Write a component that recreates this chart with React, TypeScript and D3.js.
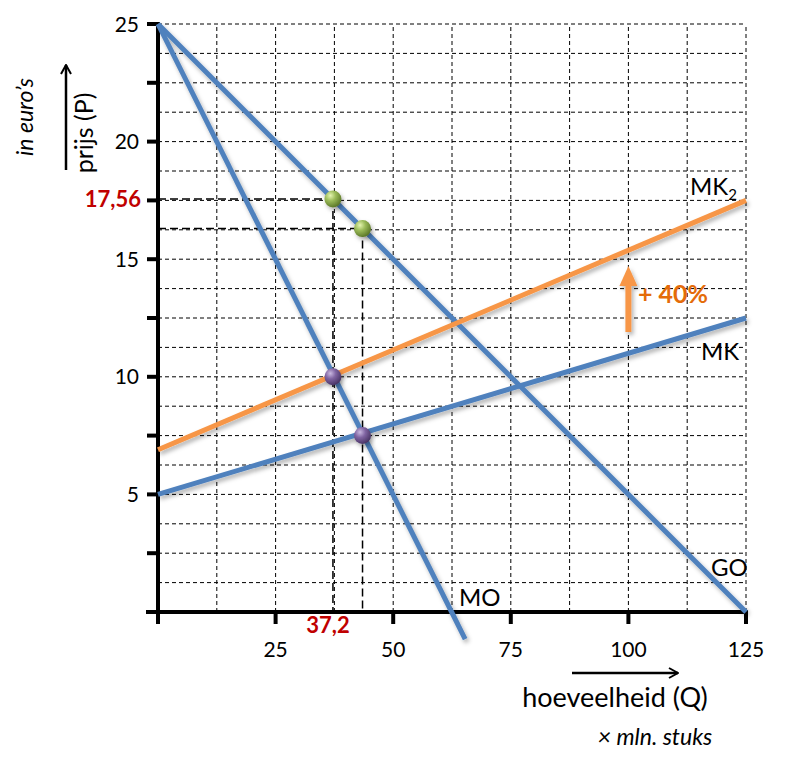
import React from "react";
import * as d3 from "d3";

const qTicks = [25, 50, 75, 100, 125];
const pTicks = [5, 10, 15, 20, 25];
const qGrid = [12.5, 25, 37.5, 50, 62.5, 75, 87.5, 100, 112.5, 125];
const pGrid = d3.range(1, 21).map((i) => i * 1.25);
const pMinorTicks = [2.5, 5, 7.5, 10, 12.5, 15, 17.5, 20, 22.5, 25];

const goLine: [number, number][] = [[0, 25], [125, 0]];
const moLine: [number, number][] = [[0, 25], [65.3, -1.15]];
const mkLine: [number, number][] = [[0, 5], [125, 12.5]];
const mk2Line: [number, number][] = [[0, 6.9], [125, 17.5]];

const greenPoints: [number, number][] = [[37.19, 17.56], [43.48, 16.3]];
const purplePoints: [number, number][] = [[37.19, 10.0], [43.48, 7.5]];

const FONT = "Lato, 'Open Sans', sans-serif";

export default function App() {
  const x = d3.scaleLinear().domain([0, 125]).range([158, 746]);
  const y = d3.scaleLinear().domain([0, 25]).range([612, 24]);
  const line = d3
    .line<[number, number]>()
    .x((d) => x(d[0]))
    .y((d) => y(d[1]));

  const blue = "#4F81BD";
  const orange = "#F79646";

  return (
    <svg width={794} height={770} style={{ position: "absolute", left: 0, top: 0 }}>
      <defs>
        <filter id="sh" x="-10%" y="-10%" width="120%" height="120%">
          <feDropShadow dx="2" dy="3" stdDeviation="2" floodColor="#000" floodOpacity="0.3" />
        </filter>
        <radialGradient id="gGreen" cx="35%" cy="30%" r="70%">
          <stop offset="0%" stopColor="#E6F5B0" />
          <stop offset="45%" stopColor="#9BBB59" />
          <stop offset="100%" stopColor="#5E7A2A" />
        </radialGradient>
        <radialGradient id="gPurple" cx="35%" cy="30%" r="70%">
          <stop offset="0%" stopColor="#C9B8E0" />
          <stop offset="45%" stopColor="#8064A2" />
          <stop offset="100%" stopColor="#4A3566" />
        </radialGradient>
        <marker id="ah" viewBox="0 0 12 12" refX="11" refY="6" markerWidth="12" markerHeight="12" orient="auto" markerUnits="userSpaceOnUse">
          <path d="M2,1 L11,6 L2,11" fill="none" stroke="#000" strokeWidth="2" />
        </marker>
      </defs>
      <rect width={794} height={770} fill="#fff" />

      {/* grid */}
      {qGrid.map((q) => (
        <line key={"vq" + q} x1={x(q)} x2={x(q)} y1={y(0)} y2={y(25)} stroke="#000" strokeWidth={1} strokeDasharray="4,3" />
      ))}
      {pGrid.map((p) => (
        <line key={"hp" + p} x1={x(0)} x2={x(125)} y1={y(p)} y2={y(p)} stroke="#000" strokeWidth={1} strokeDasharray="4,3" />
      ))}

      {/* helper dashed lines */}
      {greenPoints.map(([q, p], i) => (
        <g key={"dl" + i}>
          <line x1={x(0)} x2={x(q)} y1={y(p)} y2={y(p)} stroke="#000" strokeWidth={1.5} strokeDasharray="8,4" />
          <line x1={x(q)} x2={x(q)} y1={y(p)} y2={y(0)} stroke="#000" strokeWidth={1.5} strokeDasharray="8,4" />
        </g>
      ))}

      {/* axes */}
      <line x1={x(0)} x2={x(0)} y1={y(25) - 2} y2={y(0) + 2} stroke="#000" strokeWidth={4} />
      <line x1={x(0) - 12} x2={x(125) + 2} y1={y(0)} y2={y(0)} stroke="#000" strokeWidth={4} />
      {pMinorTicks.map((p) => (
        <line key={"pt" + p} x1={x(0) - 11} x2={x(0)} y1={y(p)} y2={y(p)} stroke="#000" strokeWidth={4} />
      ))}
      {[0, ...qTicks].map((q) => (
        <line key={"qt" + q} x1={x(q)} x2={x(q)} y1={y(0)} y2={y(0) + 12} stroke="#000" strokeWidth={4} />
      ))}
      {pTicks.map((p) => (
        <text key={"pl" + p} x={x(0) - 19} y={y(p)} dy="0.36em" textAnchor="end" fontFamily={FONT} fontSize={21} fill="#000">
          {p}
        </text>
      ))}
      {qTicks.map((q) => (
        <text key={"ql" + q} x={x(q)} y={y(0) + 45} textAnchor="middle" fontFamily={FONT} fontSize={21} fill="#000">
          {q}
        </text>
      ))}

      {/* curves */}
      <g filter="url(#sh)">
        <path d={line(goLine) || ""} stroke={blue} strokeWidth={5} fill="none" />
        <path d={line(moLine) || ""} stroke={blue} strokeWidth={5} fill="none" />
        <path d={line(mkLine) || ""} stroke={blue} strokeWidth={5} fill="none" />
        <path d={line(mk2Line) || ""} stroke={orange} strokeWidth={5} fill="none" />
      </g>

      {/* points */}
      <g filter="url(#sh)">
        {greenPoints.map(([q, p], i) => (
          <circle key={"gp" + i} cx={x(q)} cy={y(p)} r={8.5} fill="url(#gGreen)" />
        ))}
        {purplePoints.map(([q, p], i) => (
          <circle key={"pp" + i} cx={x(q)} cy={y(p)} r={8.5} fill="url(#gPurple)" />
        ))}
      </g>

      {/* +40% arrow */}
      <g filter="url(#sh)">
        <line x1={x(100)} x2={x(100)} y1={332} y2={283} stroke={orange} strokeWidth={6} />
        <path d={`M${x(100) - 9},286 L${x(100)},266 L${x(100) + 9},286 Z`} fill={orange} />
      </g>
      <text x={638} y={303} fontFamily={FONT} fontSize={25} fontWeight="bold" fill="#E46C0A">
        + 40%
      </text>

      {/* curve labels */}
      <text x={690} y={195} fontFamily={FONT} fontSize={24} fill="#000">
        MK<tspan fontSize={15} dy={5}>2</tspan>
      </text>
      <text x={701} y={360} fontFamily={FONT} fontSize={24} fill="#000">MK</text>
      <text x={711} y={576} fontFamily={FONT} fontSize={24} fill="#000">GO</text>
      <text x={459} y={606} fontFamily={FONT} fontSize={24} fill="#000">MO</text>

      {/* red value labels */}
      <text x={x(0) - 17} y={y(17.56)} dy="0.36em" textAnchor="end" fontFamily={FONT} fontSize={22} fontWeight="bold" fill="#C00000">
        17,56
      </text>
      <text x={x(37.2) - 5} y={633} textAnchor="middle" fontFamily={FONT} fontSize={22} fontWeight="bold" fill="#C00000">
        37,2
      </text>

      {/* y axis title */}
      <line x1={66} x2={66} y1={170} y2={65} stroke="#000" strokeWidth={2.5} markerEnd="url(#ah)" />
      <text transform="translate(93,133) rotate(-90)" textAnchor="middle" fontFamily={FONT} fontSize={25} fill="#000">
        prijs (P)
      </text>
      <text transform="translate(33,117) rotate(-90)" textAnchor="middle" fontFamily={FONT} fontSize={23} fontStyle="italic" fill="#000">
        in euro’s
      </text>

      {/* x axis title */}
      <line x1={572} x2={678} y1={673} y2={673} stroke="#000" strokeWidth={2.5} markerEnd="url(#ah)" />
      <text x={615} y={707} textAnchor="middle" fontFamily={FONT} fontSize={27} fill="#000">
        hoeveelheid (Q)
      </text>
      <text x={655} y={745} textAnchor="middle" fontFamily={FONT} fontSize={23} fontStyle="italic" fill="#000">
        × mln. stuks
      </text>
    </svg>
  );
}
